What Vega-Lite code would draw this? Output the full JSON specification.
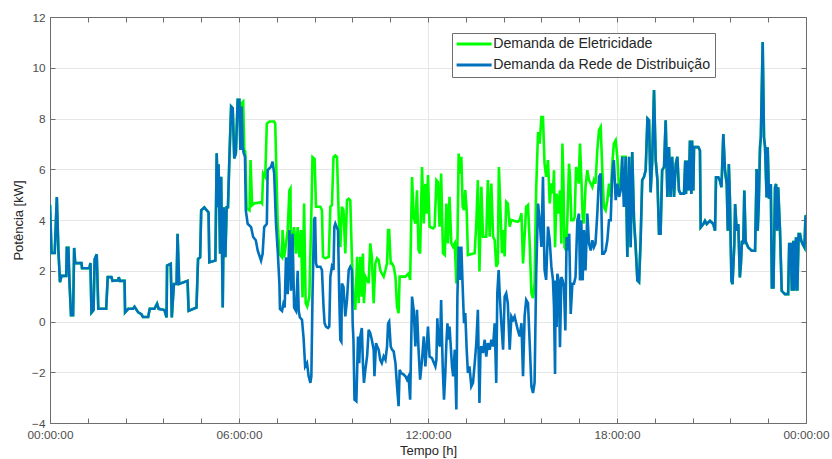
{
  "$schema": "https://vega.github.io/schema/vega-lite/v6.json",
  "width": 756,
  "height": 406,
  "autosize": {"type": "none"},
  "padding": {"left": 50, "top": 17, "right": 26, "bottom": 36},
  "background": "white",
  "config": {"view": {"stroke": null}, "font": "Liberation Sans"},
  "datasets": {
    "rede": [
      {"t":0,"v":4.6},{"t":3,"v":2.7},{"t":9,"v":2.7},{"t":13,"v":4.9},{"t":16,"v":2.8},{"t":19,"v":1.55},{"t":22,"v":1.8},{"t":31,"v":1.8},{"t":32,"v":2.9},{"t":35,"v":2.9},{"t":37,"v":1.6},{"t":40,"v":0.25},{"t":44,"v":0.25},{"t":46,"v":2.9},{"t":48,"v":2.3},{"t":60,"v":2.3},{"t":61,"v":2.1},{"t":75,"v":2.1},{"t":77,"v":2.3},{"t":79,"v":0.35},{"t":83,"v":0.45},{"t":85,"v":2.45},{"t":89,"v":2.65},{"t":92,"v":0.5},{"t":107,"v":0.5},{"t":110,"v":1.75},{"t":117,"v":1.75},{"t":119,"v":1.6},{"t":130,"v":1.62},{"t":131,"v":1.75},{"t":133,"v":1.6},{"t":142,"v":1.6},{"t":143,"v":0.36},{"t":149,"v":0.5},{"t":158,"v":0.5},{"t":161,"v":0.58},{"t":168,"v":0.36},{"t":174,"v":0.29},{"t":177,"v":0.18},{"t":187,"v":0.18},{"t":190,"v":0.5},{"t":199,"v":0.5},{"t":204,"v":0.7},{"t":207,"v":0.5},{"t":218,"v":0.45},{"t":222,"v":0.16},{"t":223,"v":2.2},{"t":230,"v":2.27},{"t":232,"v":0.16},{"t":236,"v":1.48},{"t":241,"v":1.48},
      {"t":243,"v":3.46},{"t":246,"v":1.48},{"t":262,"v":1.6},{"t":264,"v":0.42},{"t":279,"v":0.55},{"t":282,"v":2.47},{"t":286,"v":2.53},{"t":288,"v":4.38},{"t":294,"v":4.5},{"t":302,"v":4.3},{"t":303.5,"v":2.33},{"t":315,"v":2.4},{"t":317.5,"v":6.63},{"t":320,"v":4.5},{"t":321,"v":6.2},{"t":324,"v":2.67},{"t":326,"v":5.7},{"t":329,"v":0.55},{"t":331,"v":4.5},{"t":334,"v":2.53},{"t":336.5,"v":4.5},{"t":339,"v":4.5},{"t":341.6,"v":6.36},{"t":345,"v":8.47},{"t":348,"v":8.4},{"t":351,"v":6.43},{"t":354,"v":6.63},{"t":357.5,"v":8.74},{"t":360.7,"v":8.74},{"t":362.6,"v":6.76},{"t":365,"v":8.47},{"t":367,"v":6.9},{"t":369,"v":6.63},{"t":371.4,"v":6.5},{"t":373,"v":4.38},{"t":376.5,"v":3.85},{"t":383,"v":3.72},{"t":387,"v":3.33},{"t":392,"v":3.2},{"t":395.6,"v":2.8},{"t":402,"v":2.4},{"t":405,"v":2.67},{"t":408,"v":3.72},{"t":413,"v":3.85},{"t":414.6,"v":5.97},{"t":421,"v":6.1},{"t":424,"v":6.3},{"t":427,"v":5.83},{"t":430.5,"v":3.85},{"t":433.7,"v":2.8},{"t":437,"v":1.48},{"t":438,"v":0.5},{"t":442,"v":0.42},{"t":444.5,"v":0.69},{"t":447,"v":0.55},{"t":449.5,"v":2.53},{"t":452.7,"v":1.08},{"t":456,"v":3.6},{"t":459,"v":1.21},{"t":462,"v":3.46},{"t":465,"v":0.55},{"t":468.6,"v":0.42},{"t":471.8,"v":2.0},{"t":473.7,"v":0.42},{"t":476,"v":0.16},
      {"t":480,"v":0.07},{"t":483,"v":-0.65},{"t":486,"v":-1.77},{"t":489.5,"v":-1.64},{"t":492.7,"v":-2.16},{"t":496,"v":-2.42},{"t":497.8,"v":-2.16},{"t":500,"v":0.98},{"t":503,"v":4.0},{"t":505,"v":4.12},{"t":506.7,"v":2.29},{"t":508.6,"v":2.16},{"t":515,"v":2.16},{"t":518,"v":2.03},{"t":521,"v":0.59},{"t":523,"v":-0.07},{"t":525.7,"v":-0.2},{"t":529.5,"v":-0.26},{"t":532,"v":-0.2},{"t":534,"v":1.77},{"t":537,"v":2.16},{"t":540,"v":2.03},{"t":541.6,"v":3.73},{"t":543.5,"v":3.86},{"t":548.6,"v":3.6},{"t":551,"v":0.98},{"t":553,"v":-0.72},{"t":555,"v":-0.79},{"t":556,"v":1.5},{"t":559,"v":1.37},{"t":562.5,"v":0.2},{"t":565.7,"v":0.85},{"t":569,"v":2.03},{"t":572,"v":2.16},{"t":575,"v":2.03},{"t":576.5,"v":-0.07},{"t":578,"v":-0.72},{"t":580,"v":-3.08},{"t":583.5,"v":-3.14},{"t":586.7,"v":-0.59},{"t":589,"v":-1.64},{"t":591,"v":-0.59},{"t":594,"v":-0.26},{"t":596,"v":-1.64},{"t":598,"v":-2.42},{"t":600.7,"v":-1.9},{"t":604,"v":-1.37},{"t":607,"v":-0.33},{"t":610,"v":-0.46},{"t":613,"v":-0.72},{"t":616.5,"v":-1.11},{"t":618,"v":-2.16},{"t":621,"v":-0.85},{"t":623,"v":-0.98},{"t":626,"v":-1.11},{"t":629,"v":-1.51},{"t":632,"v":-1.64},{"t":635.6,"v":-1.37},{"t":639,"v":-1.51},{"t":642,"v":-0.98},{"t":644,"v":-0.07},{"t":646,"v":0},{"t":649,"v":-0.98},{"t":651.5,"v":-1.11},{"t":654.6,"v":-1.18},{"t":658,"v":-1.64},{"t":661,"v":-2.55},{"t":664,"v":-3.34},{"t":666,"v":-1.9},{"t":669,"v":-2.03},{"t":673.7,"v":-2.09},{"t":677,"v":-2.16},{"t":680,"v":-2.29},{"t":683,"v":-2.16},{"t":686,"v":-3.08},{"t":689.6,"v":0.98},{"t":692.7,"v":0.46},{"t":696,"v":-0.98},{"t":699,"v":0.46},{"t":702,"v":-1.11},{"t":705,"v":-2.29},{"t":708.6,"v":-1.51},{"t":712,"v":-0.59},{"t":715,"v":-1.77},{"t":718,"v":-0.85},
      {"t":720,"v":-0.2},{"t":723,"v":-1.38},{"t":727.6,"v":-1.44},{"t":731.4,"v":-1.64},{"t":734,"v":-1.77},{"t":736,"v":-1.51},{"t":737.8,"v":0.13},{"t":740,"v":-0.85},{"t":743,"v":-0.98},{"t":745,"v":0.85},{"t":748,"v":-1.77},{"t":750.5,"v":-3.08},{"t":753,"v":-2.03},{"t":755,"v":-0.85},{"t":757,"v":-0.07},{"t":759.4,"v":-0.72},{"t":761,"v":-0.2},{"t":763,"v":-0.85},{"t":765.7,"v":-1.77},{"t":768,"v":-2.16},{"t":771,"v":-1.11},{"t":774,"v":-3.47},{"t":776,"v":0.98},{"t":778.4,"v":2.95},{"t":781,"v":1.64},{"t":783.5,"v":2.95},{"t":786,"v":1.38},{"t":788.6,"v":-0.07},{"t":791,"v":0.33},{"t":793.7,"v":-1.11},{"t":796,"v":-2.03},{"t":799,"v":-1.77},{"t":802.5,"v":-2.56},{"t":805.7,"v":-2.42},{"t":809,"v":-1.64},{"t":812,"v":-0.85},{"t":815,"v":0.46},{"t":818,"v":-3.21},{"t":820,"v":-1.11},{"t":821.6,"v":-0.98},{"t":824.8,"v":-1.24},{"t":828,"v":-0.72},{"t":831,"v":-1.38},{"t":834,"v":-0.85},{"t":837.5,"v":-1.11},{"t":840.6,"v":-0.72},{"t":844,"v":-0.98},{"t":847,"v":-0.07},{"t":850,"v":-2.42},{"t":852,"v":1.11},{"t":854.6,"v":2.03},{"t":856.5,"v":1.11},{"t":859.7,"v":-0.07},{"t":863,"v":-1.11},{"t":866,"v":0.98},{"t":869,"v":1.11},{"t":872,"v":0.72},{"t":875.6,"v":-1.11},{"t":878.8,"v":0.2},{"t":882,"v":0.07},{"t":885,"v":0.2},{"t":888,"v":-0.07},{"t":891,"v":-0.33},{"t":894.6,"v":-0.59},{"t":898,"v":-0.07},{"t":901,"v":-2.16},{"t":904,"v":0.2},{"t":907,"v":0.85},{"t":910.5,"v":0.72},{"t":913.7,"v":-0.85},{"t":917,"v":-2.56},{"t":920,"v":-2.82},{"t":923,"v":-2.42},{"t":926,"v":1.77},{"t":929.6,"v":4.65},{"t":932.7,"v":4.0},{"t":936,"v":2.94},{"t":939,"v":5.7},{"t":942,"v":2.03},{"t":945,"v":1.64},{"t":948.6,"v":3.74},{"t":951.8,"v":3.21},{"t":955,"v":2.16},{"t":958,"v":1.64},
      {"t":960,"v":0.57},{"t":962,"v":-2.07},{"t":963,"v":1.62},{"t":965,"v":-0.22},{"t":966.4,"v":1.88},{"t":969,"v":1.62},{"t":971.4,"v":-1.01},{"t":974,"v":1.75},{"t":976.5,"v":1.62},{"t":979,"v":1.36},{"t":981.6,"v":-0.35},{"t":984,"v":3.33},{"t":986.7,"v":2.8},{"t":989,"v":3.46},{"t":991.8,"v":0.3},{"t":995,"v":1.49},{"t":998,"v":1.49},{"t":1001,"v":1.75},{"t":1004.5,"v":3.99},{"t":1007.6,"v":4.25},{"t":1009.5,"v":1.62},{"t":1012,"v":3.99},{"t":1014.6,"v":1.62},{"t":1017,"v":3.6},{"t":1020,"v":2.01},{"t":1023.5,"v":4.25},{"t":1026.7,"v":3.07},{"t":1030,"v":2.8},{"t":1033,"v":3.2},{"t":1036,"v":2.93},{"t":1039,"v":3.07},{"t":1042.5,"v":4.25},{"t":1045.7,"v":5.7},{"t":1049,"v":5.83},{"t":1052,"v":2.67},{"t":1055,"v":2.67},{"t":1058.4,"v":2.8},{"t":1061.6,"v":3.2},{"t":1064.8,"v":3.99},{"t":1068,"v":3.99},{"t":1071,"v":5.83},{"t":1074,"v":6.36},{"t":1077.5,"v":4.78},{"t":1080.6,"v":5.43},{"t":1084,"v":4.91},{"t":1087,"v":5.17},{"t":1090,"v":6.49},{"t":1093,"v":4.51},{"t":1096.5,"v":6.49},{"t":1099.7,"v":2.54},{"t":1103,"v":6.49},{"t":1106,"v":2.93},{"t":1109,"v":6.68},{"t":1112.4,"v":3.99},{"t":1115.6,"v":2.93},{"t":1118.8,"v":1.62},{"t":1122,"v":1.55},{"t":1125,"v":3.2},{"t":1128,"v":5.57},{"t":1131.5,"v":5.7},{"t":1134.6,"v":5.96},{"t":1138,"v":8.0},{"t":1141,"v":7.93},{"t":1144,"v":5.09},{"t":1147,"v":6.3},{"t":1150.5,"v":9.12},{"t":1153.7,"v":6.36},{"t":1157,"v":5.57},{"t":1160,"v":3.46},{"t":1163,"v":3.46},{"t":1166,"v":5.96},{"t":1169.6,"v":6.09},{"t":1172.7,"v":7.93},{"t":1176,"v":4.91},{"t":1179,"v":6.88},{"t":1182,"v":4.91},{"t":1185,"v":6.49},{"t":1188.6,"v":4.91},{"t":1192,"v":6.22},{"t":1195,"v":6.49},{"t":1198,"v":5.17},{"t":1201,"v":5.04},{"t":1207.6,"v":5.04},
      {"t":1210,"v":6.34},{"t":1211.4,"v":5.03},{"t":1214,"v":6.34},{"t":1216.5,"v":5.16},{"t":1219,"v":7.13},{"t":1221.6,"v":5.03},{"t":1223,"v":7.13},{"t":1225.4,"v":5.16},{"t":1226.7,"v":6.87},{"t":1235,"v":6.87},{"t":1238,"v":6.74},{"t":1239.4,"v":3.71},{"t":1244.5,"v":3.84},{"t":1247.6,"v":3.97},{"t":1251,"v":3.84},{"t":1254,"v":3.91},{"t":1257,"v":3.97},{"t":1260,"v":3.91},{"t":1263.5,"v":3.84},{"t":1266.7,"v":3.58},{"t":1268.6,"v":5.68},{"t":1273,"v":5.68},{"t":1276,"v":5.55},{"t":1279,"v":5.29},{"t":1282.5,"v":7.39},{"t":1285.7,"v":5.95},{"t":1289,"v":5.42},{"t":1291,"v":3.58},{"t":1293,"v":6.21},{"t":1295,"v":4.89},{"t":1298,"v":1.6},{"t":1300,"v":1.47},{"t":1303.5,"v":3.05},{"t":1305,"v":4.63},{"t":1308,"v":3.58},{"t":1311,"v":3.84},{"t":1314,"v":1.74},{"t":1316,"v":2.26},{"t":1318,"v":3.18},{"t":1320.6,"v":3.05},{"t":1322.5,"v":5.16},{"t":1325,"v":3.18},{"t":1327,"v":3.05},{"t":1330,"v":2.92},{"t":1333,"v":2.86},{"t":1336.5,"v":2.79},{"t":1343,"v":2.79},{"t":1346,"v":6.01},{"t":1348,"v":3.58},{"t":1350,"v":4.63},{"t":1352.4,"v":6.87},{"t":1354,"v":7.26},{"t":1357.5,"v":11.01},{"t":1360,"v":7.26},{"t":1362,"v":6.87},{"t":1365,"v":4.89},{"t":1367,"v":6.87},{"t":1369.5,"v":4.89},{"t":1371.5,"v":4.89},{"t":1373,"v":5.42},{"t":1375,"v":1.34},{"t":1378,"v":1.34},{"t":1381,"v":5.29},{"t":1383,"v":5.42},{"t":1385,"v":3.58},{"t":1387,"v":5.29},{"t":1390.5,"v":3.58},{"t":1393.7,"v":1.21},{"t":1397,"v":1.14},{"t":1400,"v":1.08},{"t":1406,"v":1.08},{"t":1408,"v":3.05},{"t":1411,"v":3.05},{"t":1413,"v":1.21},{"t":1416,"v":3.18},{"t":1418,"v":1.21},{"t":1421,"v":3.32},{"t":1423.5,"v":1.21},{"t":1426,"v":3.45},{"t":1428.6,"v":3.45},{"t":1431,"v":3.18},{"t":1433.7,"v":3.05},{"t":1437,"v":2.92},{"t":1439,"v":4.1},{"t":1440,"v":4.2}
    ],
    "eletricidade": [
      {"t":0,"v":4.6},{"t":3,"v":2.7},{"t":9,"v":2.7},{"t":13,"v":4.9},{"t":16,"v":2.8},{"t":19,"v":1.55},{"t":22,"v":1.8},{"t":31,"v":1.8},{"t":32,"v":2.9},{"t":35,"v":2.9},{"t":37,"v":1.6},{"t":40,"v":0.25},{"t":44,"v":0.25},{"t":46,"v":2.9},{"t":48,"v":2.3},{"t":60,"v":2.3},{"t":61,"v":2.1},{"t":75,"v":2.1},{"t":77,"v":2.3},{"t":79,"v":0.35},{"t":83,"v":0.45},{"t":85,"v":2.45},{"t":89,"v":2.65},{"t":92,"v":0.5},{"t":107,"v":0.5},{"t":110,"v":1.75},{"t":117,"v":1.75},{"t":119,"v":1.6},{"t":130,"v":1.62},{"t":131,"v":1.75},{"t":133,"v":1.6},{"t":142,"v":1.6},{"t":143,"v":0.36},{"t":149,"v":0.5},{"t":158,"v":0.5},{"t":161,"v":0.58},{"t":168,"v":0.36},{"t":174,"v":0.29},{"t":177,"v":0.18},{"t":187,"v":0.18},{"t":190,"v":0.5},{"t":199,"v":0.5},{"t":204,"v":0.7},{"t":207,"v":0.5},{"t":218,"v":0.45},{"t":222,"v":0.16},{"t":223,"v":2.2},{"t":230,"v":2.27},{"t":232,"v":0.16},{"t":236,"v":1.48},{"t":241,"v":1.48},
      {"t":243,"v":3.46},{"t":246,"v":1.48},{"t":262,"v":1.6},{"t":264,"v":0.42},{"t":279,"v":0.55},{"t":282,"v":2.47},{"t":286,"v":2.53},{"t":288,"v":4.38},{"t":294,"v":4.5},{"t":302,"v":4.3},{"t":303.5,"v":2.33},{"t":315,"v":2.4},{"t":317.5,"v":6.63},{"t":320,"v":4.5},{"t":321,"v":6.2},{"t":324,"v":2.67},{"t":326,"v":5.7},{"t":329,"v":0.55},{"t":331,"v":4.5},{"t":334,"v":2.53},{"t":336.5,"v":4.5},{"t":339,"v":4.5},{"t":341.6,"v":6.36},{"t":345,"v":8.47},{"t":348,"v":8.4},{"t":351,"v":6.43},{"t":354,"v":6.63},{"t":357.5,"v":8.74},{"t":360.7,"v":8.74},{"t":362.6,"v":6.76},
      {"t":365,"v":8.6},{"t":368,"v":8.67},{"t":370,"v":6.76},{"t":372,"v":6.7},{"t":374.6,"v":4.45},{"t":380,"v":4.38},{"t":382,"v":6.36},{"t":385,"v":4.58},{"t":389,"v":4.65},{"t":402,"v":4.7},{"t":404,"v":4.65},{"t":406,"v":5.83},{"t":410,"v":5.7},{"t":413,"v":7.8},{"t":418,"v":7.88},{"t":427,"v":7.88},{"t":429,"v":7.8},{"t":433.7,"v":3.85},{"t":437,"v":2.67},{"t":442,"v":2.53},{"t":443,"v":3.6},{"t":446,"v":2.53},{"t":449.5,"v":3.05},{"t":452.7,"v":3.6},{"t":456,"v":5.17},{"t":458,"v":5.24},{"t":459,"v":2.53},{"t":462,"v":3.33},{"t":465,"v":3.72},{"t":468.6,"v":2.67},{"t":471.8,"v":3.72},{"t":475,"v":2.53},{"t":478,"v":3.6},{"t":481,"v":0.95},{"t":484,"v":4.65},{"t":487,"v":0.72},{"t":490,"v":0.59},{"t":494,"v":0.98},
      {"t":497.8,"v":4.25},{"t":500,"v":6.48},{"t":504,"v":6.41},{"t":506.7,"v":4.52},{"t":515,"v":4.52},{"t":518,"v":4.39},{"t":520,"v":2.55},{"t":524.5,"v":2.49},{"t":531,"v":2.55},{"t":534,"v":4.52},{"t":537,"v":4.58},{"t":540,"v":6.48},{"t":543.5,"v":6.54},{"t":546.7,"v":6.48},{"t":550,"v":4.12},{"t":553,"v":2.94},{"t":556,"v":4.52},{"t":559,"v":4.39},{"t":562.5,"v":2.68},{"t":565.7,"v":4.78},{"t":569,"v":4.84},{"t":572,"v":4.78},{"t":575,"v":2.55},{"t":578,"v":0.98},{"t":581.6,"v":0.46},{"t":585,"v":2.55},{"t":588,"v":0.72},{"t":591,"v":2.55},{"t":594,"v":0.98},{"t":596,"v":2.68},{"t":598,"v":0.72},{"t":600.7,"v":1.77},{"t":607,"v":1.51},{"t":610,"v":3.08},{"t":613,"v":2.55},{"t":616.5,"v":0.72},{"t":619.7,"v":2.29},{"t":623,"v":2.49},{"t":626,"v":2.42},{"t":629,"v":2.03},{"t":632,"v":1.9},{"t":635.6,"v":1.77},{"t":639,"v":2.03},{"t":642,"v":2.29},{"t":644,"v":3.6},{"t":646,"v":3.6},{"t":649,"v":2.29},{"t":651.5,"v":2.29},{"t":654.6,"v":2.16},{"t":658,"v":1.77},{"t":661,"v":0.59},{"t":664,"v":0.33},{"t":666,"v":1.77},{"t":677,"v":1.77},{"t":683,"v":1.9},{"t":686,"v":1.64},{"t":689.6,"v":5.69},{"t":692.7,"v":4.12},{"t":696,"v":3.86},{"t":699,"v":5.17},{"t":702,"v":2.81},{"t":705,"v":2.68},{"t":708.6,"v":6.09},{"t":712,"v":3.86},{"t":715,"v":5.43},{"t":718,"v":4.25},
      {"t":720,"v":5.77},{"t":723,"v":3.74},{"t":729.5,"v":3.67},{"t":732.7,"v":3.74},{"t":736,"v":5.57},{"t":739,"v":5.5},{"t":742,"v":3.74},{"t":745,"v":5.83},{"t":748.6,"v":2.69},{"t":752,"v":2.62},{"t":755,"v":4.65},{"t":758,"v":3.08},{"t":761,"v":4.91},{"t":764.5,"v":3.08},{"t":767.6,"v":2.95},{"t":771,"v":3.08},{"t":774,"v":1.5},{"t":776,"v":2.95},{"t":778.4,"v":6.62},{"t":781,"v":5.83},{"t":783.5,"v":6.49},{"t":786,"v":4.52},{"t":788.6,"v":4.39},{"t":791,"v":5.18},{"t":793.7,"v":4.39},{"t":796,"v":2.62},{"t":808.9,"v":2.69},{"t":812,"v":3.87},{"t":815,"v":5.57},{"t":818,"v":1.97},{"t":821.6,"v":5.31},{"t":824.8,"v":3.34},{"t":831,"v":3.34},{"t":834,"v":5.57},{"t":837.5,"v":3.34},{"t":840.6,"v":5.44},{"t":844,"v":3.34},{"t":847,"v":3.21},{"t":850,"v":2.16},{"t":853,"v":2.29},{"t":855,"v":6.09},{"t":858,"v":4.39},{"t":861,"v":2.69},{"t":863.5,"v":3.6},{"t":866,"v":2.56},{"t":869,"v":4.72},{"t":872,"v":4.65},{"t":875.6,"v":3.74},{"t":878.8,"v":4.0},{"t":891,"v":3.93},{"t":894.6,"v":4.0},{"t":898,"v":4.26},{"t":901,"v":2.29},{"t":904,"v":3.34},{"t":907,"v":4.52},{"t":910.5,"v":4.59},{"t":913.7,"v":3.08},{"t":917,"v":1.11},{"t":920,"v":0.92},{"t":923,"v":1.5},{"t":926,"v":5.18},{"t":929.6,"v":7.47},{"t":932.7,"v":7.01},{"t":936,"v":8.06},{"t":939,"v":8.06},{"t":942,"v":6.23},{"t":945,"v":5.7},{"t":948.6,"v":6.36},{"t":951.8,"v":4.65},{"t":955,"v":5.44},{"t":958,"v":5.05},
      {"t":960,"v":5.96},{"t":962,"v":2.93},{"t":965,"v":5.04},{"t":967.6,"v":4.25},{"t":971.4,"v":5.17},{"t":974,"v":3.07},{"t":976,"v":7.01},{"t":978,"v":5.57},{"t":980,"v":2.93},{"t":983,"v":2.8},{"t":985.4,"v":3.99},{"t":988.6,"v":6.22},{"t":990.5,"v":5.7},{"t":993,"v":3.99},{"t":997,"v":3.99},{"t":999.4,"v":4.12},{"t":1002,"v":6.09},{"t":1004.5,"v":5.96},{"t":1007,"v":5.43},{"t":1009.5,"v":7.01},{"t":1012,"v":5.7},{"t":1014.6,"v":4.12},{"t":1017,"v":3.86},{"t":1020,"v":5.3},{"t":1023.5,"v":5.96},{"t":1026.7,"v":5.57},{"t":1030,"v":5.43},{"t":1033,"v":5.3},{"t":1036,"v":5.57},{"t":1039,"v":5.43},{"t":1042.5,"v":6.75},{"t":1045.7,"v":7.54},{"t":1049,"v":7.67},{"t":1052,"v":5.96},{"t":1055,"v":4.51},{"t":1058.4,"v":4.38},{"t":1061.6,"v":4.78},{"t":1064.8,"v":5.43},{"t":1068,"v":4.91},{"t":1071,"v":6.22},{"t":1074,"v":7.01},{"t":1077.5,"v":7.14},{"t":1080.6,"v":6.49},{"t":1084,"v":5.17},{"t":1087,"v":5.24},{"t":1090,"v":6.49},{"t":1093,"v":6.49},{"t":1096.5,"v":6.49},
      {"t":1099.7,"v":2.54},{"t":1103,"v":6.49},{"t":1106,"v":2.93},{"t":1109,"v":6.68},{"t":1112.4,"v":3.99},{"t":1115.6,"v":2.93},{"t":1118.8,"v":1.62},{"t":1122,"v":1.55},{"t":1125,"v":3.2},{"t":1128,"v":5.57},{"t":1131.5,"v":5.7},{"t":1134.6,"v":5.96},{"t":1138,"v":8.0},{"t":1141,"v":7.93},{"t":1144,"v":5.09},{"t":1147,"v":6.3},{"t":1150.5,"v":9.12},{"t":1153.7,"v":6.36},{"t":1157,"v":5.57},{"t":1160,"v":3.46},{"t":1163,"v":3.46},{"t":1166,"v":5.96},{"t":1169.6,"v":6.09},{"t":1172.7,"v":7.93},{"t":1176,"v":4.91},{"t":1179,"v":6.88},{"t":1182,"v":4.91},{"t":1185,"v":6.49},{"t":1188.6,"v":4.91},{"t":1192,"v":6.22},{"t":1195,"v":6.49},{"t":1198,"v":5.17},{"t":1201,"v":5.04},{"t":1207.6,"v":5.04},
      {"t":1210,"v":6.34},{"t":1211.4,"v":5.03},{"t":1214,"v":6.34},{"t":1216.5,"v":5.16},{"t":1219,"v":7.13},{"t":1221.6,"v":5.03},{"t":1223,"v":7.13},{"t":1225.4,"v":5.16},{"t":1226.7,"v":6.87},{"t":1235,"v":6.87},{"t":1238,"v":6.74},{"t":1239.4,"v":3.71},{"t":1244.5,"v":3.84},{"t":1247.6,"v":3.97},{"t":1251,"v":3.84},{"t":1254,"v":3.91},{"t":1257,"v":3.97},{"t":1260,"v":3.91},{"t":1263.5,"v":3.84},{"t":1266.7,"v":3.58},{"t":1268.6,"v":5.68},{"t":1273,"v":5.68},{"t":1276,"v":5.55},{"t":1279,"v":5.29},{"t":1282.5,"v":7.39},{"t":1285.7,"v":5.95},{"t":1289,"v":5.42},{"t":1291,"v":3.58},{"t":1293,"v":6.21},{"t":1295,"v":4.89},{"t":1298,"v":1.6},{"t":1300,"v":1.47},{"t":1303.5,"v":3.05},{"t":1305,"v":4.63},{"t":1308,"v":3.58},{"t":1311,"v":3.84},{"t":1314,"v":1.74},{"t":1316,"v":2.26},{"t":1318,"v":3.18},{"t":1320.6,"v":3.05},{"t":1322.5,"v":5.16},{"t":1325,"v":3.18},{"t":1327,"v":3.05},{"t":1330,"v":2.92},{"t":1333,"v":2.86},{"t":1336.5,"v":2.79},{"t":1343,"v":2.79},{"t":1346,"v":6.01},{"t":1348,"v":3.58},{"t":1350,"v":4.63},{"t":1352.4,"v":6.87},{"t":1354,"v":7.26},{"t":1357.5,"v":11.01},{"t":1360,"v":7.26},{"t":1362,"v":6.87},{"t":1365,"v":4.89},{"t":1367,"v":6.87},{"t":1369.5,"v":4.89},{"t":1371.5,"v":4.89},{"t":1373,"v":5.42},{"t":1375,"v":1.34},{"t":1378,"v":1.34},{"t":1381,"v":5.29},{"t":1383,"v":5.42},{"t":1385,"v":3.58},{"t":1387,"v":5.29},{"t":1390.5,"v":3.58},{"t":1393.7,"v":1.21},{"t":1397,"v":1.14},{"t":1400,"v":1.08},{"t":1406,"v":1.08},{"t":1408,"v":3.05},{"t":1411,"v":3.05},{"t":1413,"v":1.21},{"t":1416,"v":3.18},{"t":1418,"v":1.21},{"t":1421,"v":3.32},{"t":1423.5,"v":1.21},{"t":1426,"v":3.45},{"t":1428.6,"v":3.45},{"t":1431,"v":3.18},{"t":1433.7,"v":3.05},{"t":1437,"v":2.92},{"t":1439,"v":4.1},{"t":1440,"v":4.2}
    ]
  },
  "layer": [
    {
      "data": {"name": "eletricidade"},
      "mark": {"type": "line", "strokeWidth": 2.6, "clip": true},
      "encoding": {
        "x": {
          "field": "t", "type": "quantitative",
          "scale": {"domain": [0, 1440], "nice": false, "zero": false},
          "axis": {"orient": "top", "values": [0,72,144,216,288,360,432,504,576,648,720,792,864,936,1008,1080,1152,1224,1296,1368,1440], "labels": false, "grid": false, "title": null, "domainColor": "#6e6e6e", "tickColor": "#6e6e6e", "tickSize": -5}
        },
        "y": {
          "field": "v", "type": "quantitative",
          "scale": {"domain": [-4, 12], "nice": false, "zero": false},
          "axis": {"orient": "right", "values": [-4,-2,0,2,4,6,8,10,12], "labels": false, "grid": false, "title": null, "domainColor": "#6e6e6e", "tickColor": "#6e6e6e", "tickSize": -5}
        },
        "color": {
          "datum": "Demanda de Eletricidade", "type": "nominal",
          "scale": {"domain": ["Demanda de Eletricidade", "Demanda da Rede de Distribuição"], "range": ["#00ff00", "#0072bd"]},
          "legend": {
            "orient": "none", "legendX": 402, "legendY": 16, "title": null,
            "symbolType": "M-3.5,0H3.5", "symbolSize": 100, "symbolStrokeWidth": 3, "symbolOffset": 11,
            "labelFontSize": 14.2, "labelColor": "#262626", "labelOffset": 12, "labelLimit": 0,
            "fillColor": "white", "strokeColor": "#6e6e6e", "padding": 4, "rowPadding": 6
          }
        }
      }
    },
    {
      "data": {"name": "rede"},
      "mark": {"type": "line", "strokeWidth": 2.6, "clip": true},
      "encoding": {
        "x": {
          "field": "t", "type": "quantitative", "title": "Tempo [h]",
          "axis": {
            "orient": "bottom",
            "values": [0,72,144,216,288,360,432,504,576,648,720,792,864,936,1008,1080,1152,1224,1296,1368,1440],
            "labelExpr": "datum.value % 360 === 0 ? pad(toString(floor(datum.value / 60) % 24), 2, '0', 'left') + ':00:00' : ''",
            "labelOverlap": false, "labelFlush": false,
            "labelFontSize": 11.8, "labelColor": "#4d4d4d", "labelPadding": 11,
            "grid": true, "gridColor": "#e6e6e6",
            "gridOpacity": {"condition": {"test": "datum.value % 360 === 0", "value": 1}, "value": 0},
            "domainColor": "#6e6e6e", "tickColor": "#6e6e6e", "tickSize": -5,
            "titleFontSize": 13, "titleFontWeight": "normal", "titleColor": "#262626", "titlePadding": 4
          }
        },
        "y": {
          "field": "v", "type": "quantitative", "title": "Potência [kW]",
          "axis": {
            "orient": "left", "values": [-4,-2,0,2,4,6,8,10,12],
            "labelFontSize": 11.8, "labelColor": "#4d4d4d", "labelPadding": 10,
            "grid": true, "gridColor": "#e6e6e6",
            "domainColor": "#6e6e6e", "tickColor": "#6e6e6e", "tickSize": -5,
            "titleFontSize": 13, "titleFontWeight": "normal", "titleColor": "#262626", "titlePadding": 6
          }
        },
        "color": {"datum": "Demanda da Rede de Distribuição", "type": "nominal"}
      }
    }
  ],
  "resolve": {"axis": {"x": "independent", "y": "independent"}}
}
